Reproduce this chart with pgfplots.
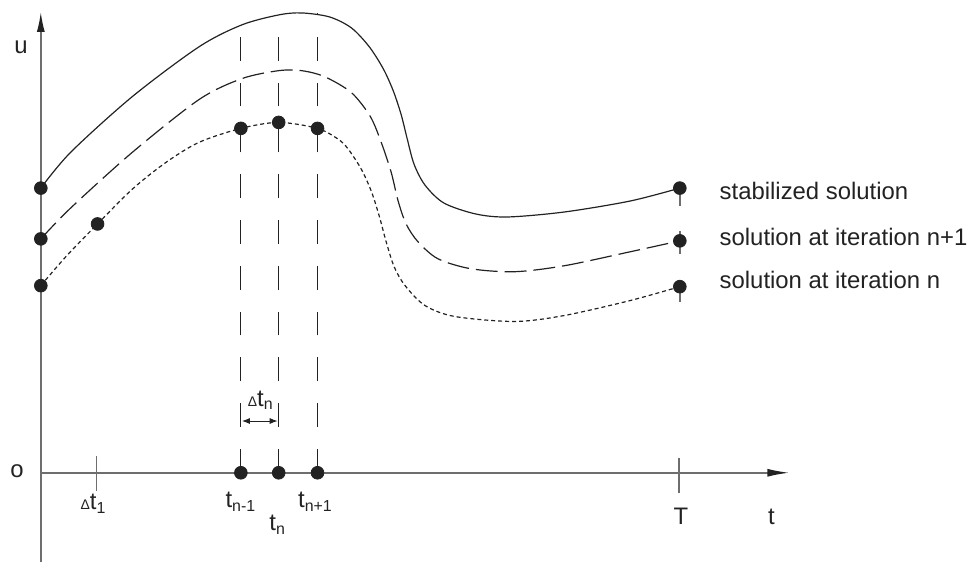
\documentclass[border=0pt]{standalone}
\usepackage{fontspec}
\setmainfont{Liberation Sans}
\usepackage{pgfplots}
\pgfplotsset{compat=1.18}
\usetikzlibrary{arrows.meta}
\definecolor{ink}{HTML}{222222}
\definecolor{axisgray}{HTML}{6E6E6E}
\newcommand{\dlt}{{\fontsize{7}{8}\selectfont Δ}}
\begin{document}
\begin{tikzpicture}[font=\fontsize{12}{14}\selectfont, text=ink]
\begin{axis}[
    scale only axis,
    width=487pt, height=285.5pt,
    xmin=-41, xmax=933, ymin=-96, ymax=475,
    hide axis,
    clip=false,
]
% keep the page the size of the reference
\path (axis cs:-41,-96) rectangle (axis cs:933,475);

% axes
\draw[axisgray, line width=0.8pt, -{Latex[length=10pt,width=4pt,color=ink]}]
    (axis cs:0,-90) -- (axis cs:0,463);
\draw[axisgray, line width=0.8pt, -{Latex[length=11pt,width=4pt,color=ink]}]
    (axis cs:0,0) -- (axis cs:752,0);
\draw[axisgray, line width=0.8pt] (axis cs:56,17) -- (axis cs:56,-18);
\draw[axisgray, line width=0.8pt] (axis cs:641,15) -- (axis cs:641,-20);

% time levels
\addplot[ink, line width=0.5pt, dash pattern=on 12pt off 11pt] coordinates {(201,0) (201,448)};
\addplot[ink, line width=0.5pt, dash pattern=on 12pt off 11pt] coordinates {(239,0) (239,460)};
\addplot[ink, line width=0.5pt, dash pattern=on 12pt off 11pt] coordinates {(278,0) (278,462)};
\draw[ink, line width=0.5pt, {Latex[length=4pt,width=3pt]}-{Latex[length=4pt,width=3pt]}]
    (axis cs:202,52) -- (axis cs:238,52);

% stabilized solution
\addplot[ink, line width=0.6pt, smooth] coordinates {
    (0,286) (30,322) (92,378) (159,428) (202,450) (239,460) (262,462)
    (290,458) (312,447) (330,428) (344,406) (354,384) (362,360) (368,336)
    (375,310) (386,289) (405,271) (437,260) (469,257) (526,262) (592,273) (642,286)
};
% solution at iteration n+1
\addplot[ink, line width=0.6pt, smooth, dash pattern=on 11pt off 3.5pt] coordinates {
    (0,235) (30,266) (92,322) (159,375) (202,396) (239,404) (262,404)
    (285,398) (312,382) (331,358) (342,332) (352,302) (359,273) (367,250)
    (379,232) (399,215) (432,205) (476,202) (526,208) (592,222) (642,233)
};
% solution at iteration n
\addplot[ink, line width=0.6pt, smooth, dash pattern=on 2pt off 1.5pt] coordinates {
    (0,188) (26,218) (57,250) (92,285) (126,312) (159,332) (201,346)
    (239,352) (278,346) (299,335) (309,325) (322,305) (332,283) (340,258)
    (347,232) (355,207) (366,188) (386,168) (416,157) (476,152) (526,158)
    (592,173) (642,187)
};

% end ticks
\draw[axisgray, line width=0.8pt] (axis cs:642,282) -- (axis cs:642,268);
\draw[axisgray, line width=0.8pt] (axis cs:642,243) -- (axis cs:642,220);
\draw[axisgray, line width=0.8pt] (axis cs:642,194) -- (axis cs:642,172);

% points
\addplot[only marks, mark=*, mark size=3.2pt, mark options={fill=ink, draw=ink}] coordinates {
    (0,286) (642,286) (0,235) (642,233) (0,188) (57,250)
    (201,346) (239,352) (278,346) (642,187)
    (201,0) (239,0) (278,0)
};

% labels
\node at (axis cs:-20,427) {u};
\node at (axis cs:-24,2) {o};
\node[anchor=base] at (axis cs:53,-37) {\dlt t\textsubscript{1}};
\node[anchor=base] at (axis cs:201,-35) {t\textsubscript{n-1}};
\node[anchor=base] at (axis cs:238,-58) {t\textsubscript{n}};
\node[anchor=base] at (axis cs:276,-35) {t\textsubscript{n+1}};
\node[anchor=base] at (axis cs:221,67) {\dlt t\textsubscript{n}};
\node[anchor=base] at (axis cs:643,-52) {T};
\node[anchor=base] at (axis cs:734,-52) {t};
\node[anchor=base west] at (axis cs:675,275) {stabilized solution};
\node[anchor=base west] at (axis cs:675,228) {solution at iteration n+1};
\node[anchor=base west] at (axis cs:675,185) {solution at iteration n};
\end{axis}
\end{tikzpicture}
\end{document}
